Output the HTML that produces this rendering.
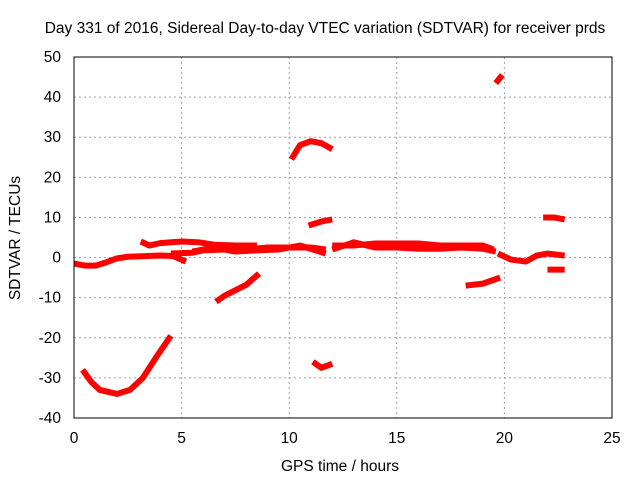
<!DOCTYPE html>
<html><head><meta charset="utf-8"><style>
body{margin:0;background:#fff}
svg{display:block;font-family:"Liberation Sans",sans-serif;font-size:15.5px}
</style></head><body>
<svg id="c" width="640" height="480">
<rect width="640" height="480" fill="#fff"/>
<g id="grid"></g><g id="marks"></g><g id="axes"></g>
</svg>
<script>
const xTicks=[0,5,10,15,20,25];
const yTicks=[-40,-30,-20,-10,0,10,20,30,40,50];
const seg1=[[0,-1.5],[0.5,-2],[1,-2],[1.5,-1.2],[2,-0.2],[2.5,0.2],[3,0.3],[4,0.5],[4.6,0.4],[5.2,-1]];
const seg2=[[0.4,-28],[0.8,-31],[1.2,-33],[2,-34],[2.6,-33],[3.2,-30],[3.8,-25],[4.5,-19.5]];
const seg3=[[3.1,4],[3.5,3],[4,3.6],[5,4],[5.8,3.8],[6.5,3.2],[7.5,3],[8.5,3]];
const seg4=[[6.6,-11],[7,-9.5],[8,-6.8],[8.6,-4]];
const seg5=[[4.5,1],[5.5,1.2],[6,1.8],[7,2],[8,2],[9,2.5],[10,2.5],[11,2.5],[11.7,2]];
const seg5b=[[5.5,1.5],[6.5,2.5],[7.5,1.5],[8.5,1.8],[9.5,2],[10.5,3],[11.7,1]];
const seg6=[[10.1,24.5],[10.5,28],[11,29],[11.5,28.5],[12,27]];
const seg7=[[10.9,8],[11.5,9],[12,9.5]];
const seg8=[[11.1,-26],[11.5,-27.5],[12,-26.5]];
const seg9=[[12,3],[13,3],[14,3.5],[15,3.5],[16,3.5],[17,3],[18,3],[19,3],[19.5,2]];
const seg9b=[[12,2],[13,3.8],[14,2.5],[15,2.5],[16,2.2],[17,2.2],[18,2.5],[19,2.2],[19.6,1.5]];
const seg10=[[18.2,-7],[19,-6.5],[19.8,-5]];
const seg11=[[19.6,43.5],[19.9,45.5]];
const seg12=[[19.7,1],[20.3,-0.5],[21,-1],[21.5,0.5],[22,1],[22.8,0.5]];
const seg13=[[21.8,10],[22.3,10],[22.8,9.5]];
const seg14=[[22,-3],[22.8,-3]];
const series=[seg1,seg2,seg3,seg4,seg5,seg5b,seg6,seg7,seg8,seg9,seg9b,seg10,seg11,seg12,seg13,seg14];
const X0=74,X1=612,Y0=418,Y1=57;
const xs=v=>X0+(v-0)/(25-0)*(X1-X0);
const ys=v=>Y0-(v+40)/(90)*(Y0-Y1);
const NS="http://www.w3.org/2000/svg";
function mk(p,t,a){const e=document.createElementNS(NS,t);for(const k in a)e.setAttribute(k,a[k]);p.appendChild(e);return e;}
const grid=document.getElementById('grid'),marks=document.getElementById('marks'),axes=document.getElementById('axes');
xTicks.forEach(t=>{
 if(t>0&&t<25){const l=mk(grid,'line',{x1:xs(t),x2:xs(t),y1:Y1,y2:Y0,stroke:'#a0a0a0','stroke-dasharray':'2,3'});
 }
 const tx=mk(axes,'text',{x:xs(t),y:Y0+25,'text-anchor':'middle',fill:'#000'});tx.textContent=t;
 
});
yTicks.forEach(t=>{
 if(t>-40&&t<50){const l=mk(grid,'line',{x1:X0,x2:X1,y1:ys(t),y2:ys(t),stroke:'#a0a0a0','stroke-dasharray':'2,3'});
 }
 const tx=mk(axes,'text',{x:X0-13,y:ys(t)+5,'text-anchor':'end',fill:'#000'});tx.textContent=t;
 
});
series.forEach(s=>{
 const p=mk(marks,'polyline',{points:s.map(d=>xs(d[0])+','+ys(d[1])).join(' '),fill:'none',stroke:'#ff0000','stroke-width':6,'stroke-linejoin':'round'});
 
});
const b=mk(axes,'rect',{x:X0,y:Y1,width:X1-X0,height:Y0-Y1,fill:'none',stroke:'#000'});

</script>
<svg style="position:absolute;left:0;top:0" width="640" height="480" font-family="Liberation Sans, sans-serif" font-size="16.5">
<text x="325" y="33" text-anchor="middle">Day 331 of 2016, Sidereal Day-to-day VTEC variation (SDTVAR) for receiver prds</text>
<text x="340" y="471" text-anchor="middle">GPS time / hours</text>
<text x="20" y="238" text-anchor="middle" transform="rotate(-90 20 238)">SDTVAR / TECUs</text>
</svg>
</body></html>
